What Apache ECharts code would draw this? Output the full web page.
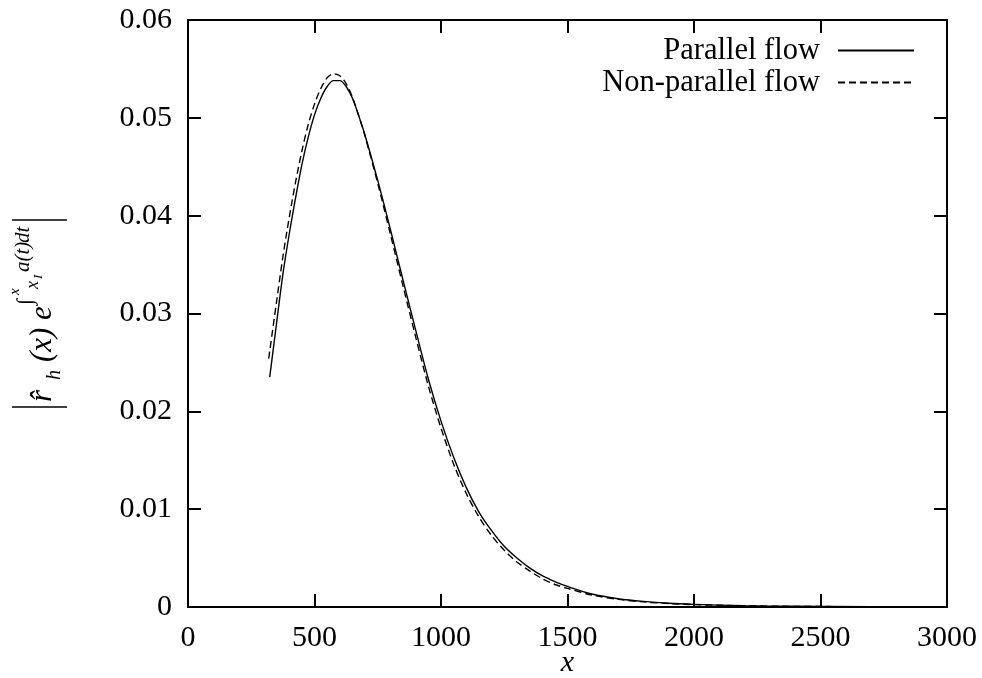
<!DOCTYPE html>
<html>
<head>
<meta charset="utf-8">
<script src="https://cdn.jsdelivr.net/npm/echarts@6/dist/echarts.min.js"></script>
<style>
html,body{margin:0;padding:0;background:#fff;overflow:hidden;}
#chart{width:982px;height:678px;}
</style>
</head>
<body>
<div id="chart"></div>
<script>
// ---- data ----
var xTicks = [0, 500, 1000, 1500, 2000, 2500, 3000];
var yTicks = [0, 0.01, 0.02, 0.03, 0.04, 0.05, 0.06];
var seriesNames = ['Parallel flow', 'Non-parallel flow'];

var parallelX = [323, 350, 375, 400, 425, 450, 475, 500, 525, 550, 575, 600, 625, 650, 675, 700, 750, 800, 850, 900, 950, 1000, 1050, 1100, 1150, 1200, 1250, 1300, 1350, 1400, 1450, 1500, 1600, 1700, 1800, 1900, 2000, 2200, 2400, 2700];
var parallelY = [0.0235, 0.0290, 0.0340, 0.0381, 0.0418, 0.0452, 0.0480, 0.0503, 0.0520, 0.0532, 0.0538, 0.0538, 0.0532, 0.0520, 0.0502, 0.0482, 0.0436, 0.0386, 0.0334, 0.0283, 0.0233, 0.0190, 0.0153, 0.0122, 0.0097, 0.0078, 0.0062, 0.0050, 0.0040, 0.0032, 0.0026, 0.0021, 0.0013, 0.00085, 0.00057, 0.00038, 0.00027, 0.00013, 0.00007, 0.00003];

var nonParallelX = [319, 350, 375, 400, 425, 450, 475, 500, 525, 550, 575, 600, 625, 650, 675, 700, 750, 800, 850, 900, 950, 1000, 1050, 1100, 1150, 1200, 1250, 1300, 1350, 1400, 1450, 1500, 1600, 1700, 1800, 1900, 2000, 2200, 2400, 2700];
var nonParallelY = [0.0254, 0.0312, 0.0358, 0.0398, 0.0434, 0.0466, 0.0493, 0.0514, 0.0530, 0.0541, 0.0545, 0.0543, 0.0535, 0.0521, 0.0502, 0.0481, 0.0433, 0.0381, 0.0328, 0.0276, 0.0226, 0.0183, 0.0146, 0.0116, 0.0092, 0.0073, 0.0058, 0.0046, 0.0037, 0.0029, 0.0023, 0.0019, 0.0012, 0.00078, 0.00052, 0.00035, 0.00024, 0.00012, 0.00006, 0.00003];

function zip(a, b) { return a.map(function (v, i) { return [v, b[i]]; }); }

var FONT = '"Liberation Serif", "DejaVu Serif", serif';
var FS = 30;

var chart = echarts.init(document.getElementById('chart'), null, {renderer: 'canvas', width: 982, height: 678});

function xAxisDef(pos, showLabels) {
  return {
    type: 'value', position: pos, min: xTicks[0], max: xTicks[xTicks.length - 1], interval: 500,
    axisLine: {show: true, onZero: false, lineStyle: {color: '#000', width: 2}},
    axisTick: {show: true, inside: true, length: 13, lineStyle: {color: '#000', width: 2}},
    axisLabel: {show: showLabels, color: '#000', fontFamily: FONT, fontSize: FS, margin: 16,
      formatter: function (v) { return String(v); }},
    splitLine: {show: false},
    name: showLabels ? 'x' : '', nameLocation: 'middle', nameGap: 41, nameMoveOverlap: false,
    nameTextStyle: {color: '#000', fontFamily: FONT, fontSize: FS, fontStyle: 'italic'}
  };
}
function yAxisDef(pos, showLabels) {
  return {
    type: 'value', position: pos, min: yTicks[0], max: yTicks[yTicks.length - 1], interval: 0.01,
    axisLine: {show: true, onZero: false, lineStyle: {color: '#000', width: 2}},
    axisTick: {show: true, inside: true, length: 13, lineStyle: {color: '#000', width: 2}},
    axisLabel: {show: showLabels, color: '#000', fontFamily: FONT, fontSize: FS, margin: 16,
      formatter: function (v) { return String(Math.round(v * 100) / 100); }},
    splitLine: {show: false}
  };
}

function t(text, x, y, size, italic) {
  return {type: 'text', x: x, y: y, style: {text: text, fill: '#000', fontFamily: FONT, fontSize: size,
    fontStyle: italic === false ? 'normal' : 'italic', verticalAlign: 'middle', align: 'left'}};
}

var hiddenSym = {color: 'rgba(0,0,0,0)', borderColor: 'rgba(0,0,0,0)', borderWidth: 0, opacity: 0};

var option = {
  backgroundColor: '#fff',
  animation: false,
  grid: {left: 188, width: 759, top: 20, height: 587, containLabel: false, outerBoundsMode: 'none'},
  xAxis: [xAxisDef('bottom', true), xAxisDef('top', false)],
  yAxis: [yAxisDef('left', true), yAxisDef('right', false)],
  legend: [
    {data: [seriesNames[0]], right: 67, top: 35, padding: 0, align: 'right', itemWidth: 76, itemHeight: 14,
     itemStyle: hiddenSym,
     textStyle: {color: '#000', fontFamily: FONT, fontSize: 30.5, padding: [0, 13, 0, 0]}, selectedMode: false},
    {data: [seriesNames[1]], right: 67, top: 67, padding: 0, align: 'right', itemWidth: 76, itemHeight: 14,
     itemStyle: hiddenSym,
     textStyle: {color: '#000', fontFamily: FONT, fontSize: 30.5, padding: [0, 13, 0, 0]}, selectedMode: false}
  ],
  series: [
    {name: seriesNames[0], type: 'line', data: zip(parallelX, parallelY), showSymbol: false, symbol: 'none',
     smooth: 0.3, lineStyle: {color: '#000', width: 1.4, type: 'solid'}, itemStyle: {color: '#000'}},
    {name: seriesNames[1], type: 'line', data: zip(nonParallelX, nonParallelY), showSymbol: false, symbol: 'none',
     smooth: 0.3, lineStyle: {color: '#000', width: 1.4, type: [7, 4]}, itemStyle: {color: '#000'}}
  ],
  graphic: [{
    type: 'group', x: 45, y: 407, rotation: Math.PI / 2,
    children: [
      {type: 'line', shape: {x1: 0, y1: -33, x2: 0, y2: 22}, style: {stroke: '#000', lineWidth: 1.6}},
      t('r\u0302', 5, -2, 31),
      t('h', 27, 10, 20),
      t('(x)', 45, -2, 31),
      t('e', 87, -2, 31),
      t('\u222B', 102, -19, 22, false),
      t('x', 112, -30, 15),
      t('x', 118, -12, 18),
      t('I', 128, -6, 13),
      t('a(t)', 135, -22, 21),
      t('dt', 164, -22, 21),
      {type: 'line', shape: {x1: 187, y1: -33, x2: 187, y2: 22}, style: {stroke: '#000', lineWidth: 1.6}}
    ]
  }]
};
chart.setOption(option);
</script>
</body>
</html>
